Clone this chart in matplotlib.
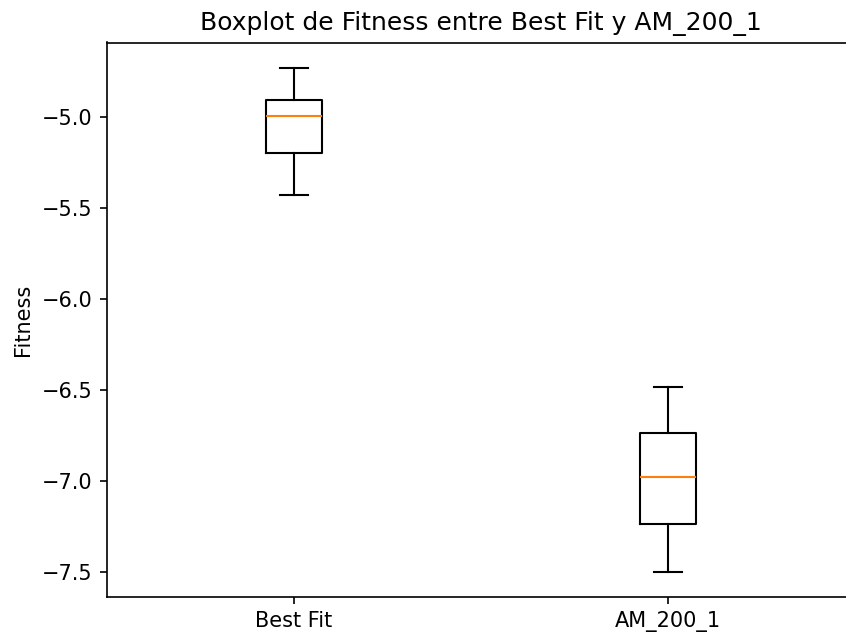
import matplotlib
matplotlib.use("Agg")
import matplotlib.pyplot as plt

labels = ["Best Fit", "AM_200_1"]
whislo = [-5.426, -7.497]
q1 = [-5.197, -7.235]
med = [-4.995, -6.978]
q3 = [-4.907, -6.732]
whishi = [-4.727, -6.481]

stats = [
    dict(label=l, whislo=wl, q1=a, med=m, q3=b, whishi=wh, fliers=[])
    for l, wl, a, m, b, wh in zip(labels, whislo, q1, med, q3, whishi)
]

dpi = 150
W, H = 846, 639
fig = plt.figure(figsize=(W / dpi, H / dpi), dpi=dpi)
left, top = 107, 42.5
aw, ah = 748, 554.4
ax = fig.add_axes([left / W, 1 - (top + ah) / H, aw / W, ah / H])
ax.bxp(stats)
ax.set_title("Boxplot de Fitness entre Best Fit y AM_200_1")
ax.set_ylabel("Fitness")
fig.savefig("out.png", dpi=dpi)
